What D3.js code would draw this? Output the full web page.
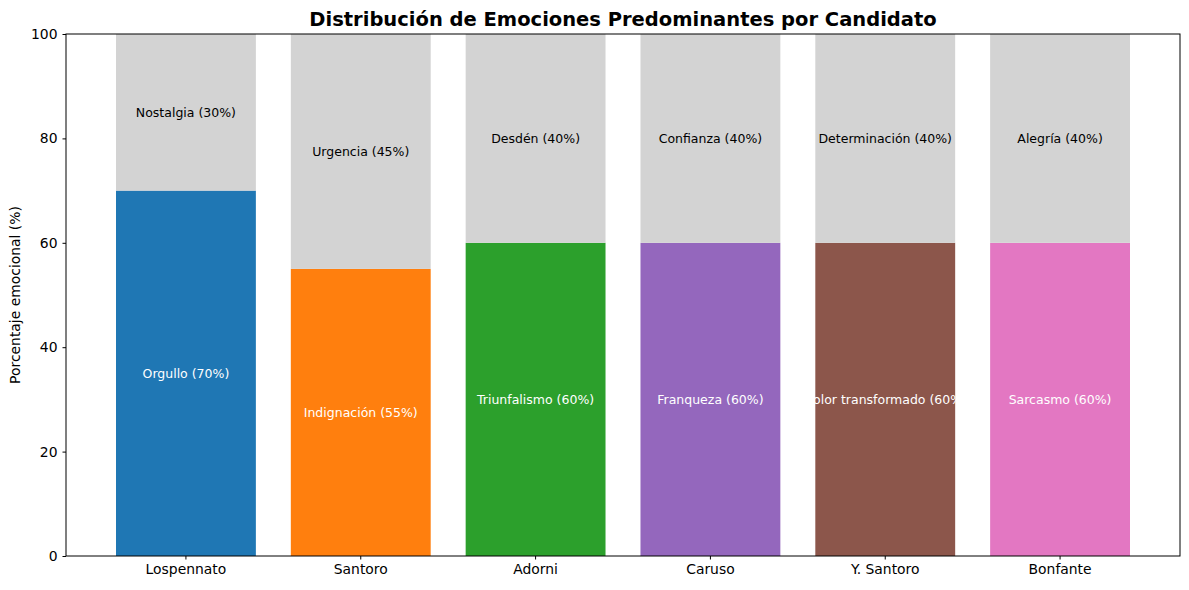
<!DOCTYPE html>
<html>
<head>
<meta charset="utf-8">
<script src="https://cdn.jsdelivr.net/npm/d3@7"></script>
<style>
  body { margin: 0; background: #fff; }
  svg { font-family: "DejaVu Sans", sans-serif; }
</style>
</head>
<body>
<svg id="chart" width="1189" height="590"></svg>
<script>
// data
const candidatos = ["Lospennato", "Santoro", "Adorni", "Caruso", "Y. Santoro", "Bonfante"];
const emocionPrincipal = ["Orgullo", "Indignación", "Triunfalismo", "Franqueza", "Dolor transformado", "Sarcasmo"];
const valorPrincipal = [70, 55, 60, 60, 60, 60];
const emocionSecundaria = ["Nostalgia", "Urgencia", "Desdén", "Confianza", "Determinación", "Alegría"];
const valorSecundario = [30, 45, 40, 40, 40, 40];
const colores = ["#1f77b4", "#ff7f0e", "#2ca02c", "#9467bd", "#8c564b", "#e377c2"];
const yTicks = [0, 20, 40, 60, 80, 100];

const margin = {left: 66, right: 9, top: 34, bottom: 34};
const W = 1189, H = 590;

const svg = d3.select("#chart");

const x = d3.scaleBand()
  .domain(candidatos)
  .range([margin.left, W - margin.right])
  .paddingInner(0.2)
  .paddingOuter(0.286);

const y = d3.scaleLinear()
  .domain([0, 100])
  .range([H - margin.bottom, margin.top]);

const rows = candidatos.map((c, i) => ({
  c: c, p: valorPrincipal[i], s: valorSecundario[i],
  pe: emocionPrincipal[i], se: emocionSecundaria[i], col: colores[i]
}));

// bottom part
svg.selectAll("rect.p").data(rows).enter().append("rect")
  .attr("x", d => x(d.c))
  .attr("y", d => y(d.p))
  .attr("width", x.bandwidth())
  .attr("height", d => y(0) - y(d.p))
  .attr("fill", d => d.col);

// top part (stacked)
svg.selectAll("rect.s").data(rows).enter().append("rect")
  .attr("x", d => x(d.c))
  .attr("y", d => y(d.p + d.s))
  .attr("width", x.bandwidth())
  .attr("height", d => y(d.p) - y(d.p + d.s))
  .attr("fill", "#d3d3d3");

// labels
svg.selectAll("text.pl").data(rows).enter().append("text")
  .attr("x", d => x(d.c) + x.bandwidth() / 2)
  .attr("y", d => y(d.p / 2))
  .attr("dy", "0.35em")
  .attr("text-anchor", "middle")
  .attr("font-size", "12.5px")
  .attr("fill", "#fff")
  .text(d => `${d.pe} (${d.p}%)`);

svg.selectAll("text.sl").data(rows).enter().append("text")
  .attr("x", d => x(d.c) + x.bandwidth() / 2)
  .attr("y", d => y(d.p + d.s / 2))
  .attr("dy", "0.35em")
  .attr("text-anchor", "middle")
  .attr("font-size", "12.5px")
  .attr("fill", "#000")
  .text(d => `${d.se} (${d.s}%)`);

// axes
const xAxis = svg.append("g")
  .attr("transform", `translate(0,${H - margin.bottom})`)
  .call(d3.axisBottom(x).tickSize(3.5).tickPadding(5).tickSizeOuter(0));
const yAxis = svg.append("g")
  .attr("transform", `translate(${margin.left},0)`)
  .call(d3.axisLeft(y).tickValues(yTicks).tickSize(3.5).tickPadding(5).tickSizeOuter(0));
[xAxis, yAxis].forEach(a => {
  a.selectAll("text").attr("font-size", "13.9px").attr("font-family", "DejaVu Sans").attr("fill", "#000");
  a.selectAll("line").attr("stroke", "#000");
  a.select(".domain").remove();
});

// frame
svg.append("rect")
  .attr("x", margin.left).attr("y", margin.top)
  .attr("width", W - margin.left - margin.right)
  .attr("height", H - margin.top - margin.bottom)
  .attr("fill", "none").attr("stroke", "#000").attr("stroke-width", 1);

// title & y label
svg.append("text")
  .attr("x", (margin.left + W - margin.right) / 2)
  .attr("y", 26)
  .attr("text-anchor", "middle")
  .attr("font-size", "19.5px")
  .attr("font-weight", "bold")
  .text("Distribución de Emociones Predominantes por Candidato");

svg.append("text")
  .attr("transform", `translate(20,${(margin.top + H - margin.bottom) / 2}) rotate(-90)`)
  .attr("text-anchor", "middle")
  .attr("font-size", "13.9px")
  .text("Porcentaje emocional (%)");
</script>
</body>
</html>
